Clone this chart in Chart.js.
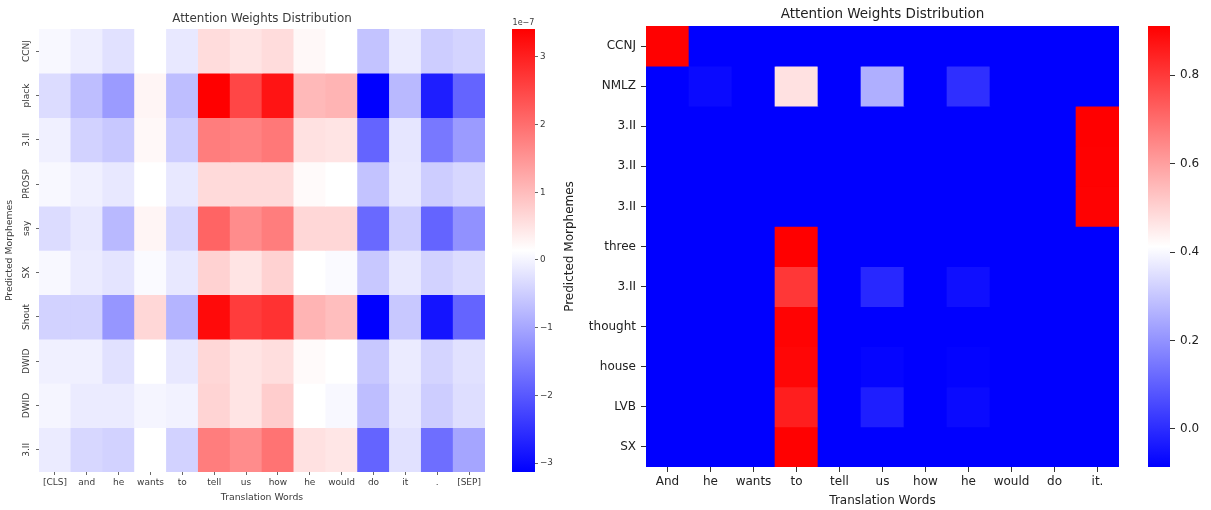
<!DOCTYPE html>
<html>
<head>
<meta charset="utf-8">
<title>Attention Weights Distribution</title>
<script src="https://cdn.jsdelivr.net/npm/chart.js@4.4.0/dist/chart.umd.min.js"></script>
<style>
  html, body { margin: 0; padding: 0; background: #fff; }
  body { width: 1211px; height: 510px; position: relative; overflow: hidden; }
  .box { position: absolute; top: 0; height: 510px; }
</style>
</head>
<body>
<div class="box" style="left:0;width:500px"><canvas id="leftMap"></canvas></div>
<div class="box" style="left:500px;width:60px"><canvas id="leftBar"></canvas></div>
<div class="box" style="left:560px;width:575px"><canvas id="rightMap"></canvas></div>
<div class="box" style="left:1135px;width:76px"><canvas id="rightBar"></canvas></div>
<script>
// left heatmap, values in units of 1e-7
const leftWords = ['[CLS]', 'and', 'he', 'wants', 'to', 'tell', 'us', 'how', 'he', 'would', 'do', 'it', '.', '[SEP]'];
const leftMorphemes = ['CCNJ', 'plack', '3.II', 'PROSP', 'say', 'SX', 'Shout', 'DWID', 'DWID', '3.II'];
const leftWeights = [
  [0.05, -0.08, -0.25, 0.14, -0.16, 0.59, 0.49, 0.59, 0.23, 0.14, -0.63, -0.12, -0.50, -0.41],
  [-0.31, -0.69, -1.14, 0.27, -0.69, 3.41, 2.51, 3.15, 1.04, 1.10, -3.13, -0.76, -2.75, -1.85],
  [-0.05, -0.44, -0.57, 0.23, -0.50, 1.81, 1.74, 1.87, 0.53, 0.49, -1.85, -0.18, -1.59, -1.14],
  [0.05, -0.05, -0.16, 0.14, -0.16, 0.62, 0.62, 0.62, 0.20, 0.14, -0.63, -0.16, -0.50, -0.37],
  [-0.31, -0.16, -0.76, 0.27, -0.37, 2.13, 1.62, 1.81, 0.65, 0.65, -1.78, -0.50, -1.85, -1.27],
  [0.05, -0.12, -0.21, 0.08, -0.16, 0.72, 0.49, 0.72, 0.14, 0.08, -0.57, -0.16, -0.44, -0.31],
  [-0.44, -0.44, -1.21, 0.65, -0.82, 3.28, 2.64, 2.77, 1.10, 0.97, -3.13, -0.57, -2.87, -1.85],
  [-0.05, -0.05, -0.25, 0.14, -0.16, 0.65, 0.49, 0.56, 0.20, 0.14, -0.57, -0.12, -0.41, -0.25],
  [0.01, -0.12, -0.12, 0.01, -0.03, 0.69, 0.49, 0.78, 0.14, 0.05, -0.69, -0.16, -0.50, -0.28],
  [-0.12, -0.37, -0.44, 0.14, -0.44, 1.81, 1.62, 1.94, 0.53, 0.46, -1.85, -0.25, -1.72, -1.01]
];
const leftBarTicks = [-3, -2, -1, 0, 1, 2, 3];

// right heatmap
const rightWords = ['And', 'he', 'wants', 'to', 'tell', 'us', 'how', 'he', 'would', 'do', 'it.'];
const rightMorphemes = ['CCNJ', 'NMLZ', '3.II', '3.II', '3.II', 'three', '3.II', 'thought', 'house', 'LVB', 'SX'];
const rightWeights = [
  [0.910, -0.086, -0.086, -0.086, -0.086, -0.086, -0.086, -0.086, -0.086, -0.086, -0.086],
  [-0.086, -0.066, -0.086, 0.471, -0.086, 0.256, -0.086, 0.005, -0.086, -0.086, -0.086],
  [-0.086, -0.086, -0.086, -0.086, -0.086, -0.086, -0.086, -0.086, -0.086, -0.086, 0.911],
  [-0.086, -0.086, -0.086, -0.086, -0.086, -0.086, -0.086, -0.086, -0.086, -0.086, 0.910],
  [-0.086, -0.086, -0.086, -0.086, -0.086, -0.086, -0.086, -0.086, -0.086, -0.086, 0.908],
  [-0.086, -0.086, -0.086, 0.911, -0.086, -0.086, -0.086, -0.086, -0.086, -0.086, -0.086],
  [-0.086, -0.086, -0.086, 0.803, -0.086, -0.008, -0.086, -0.057, -0.086, -0.086, -0.086],
  [-0.086, -0.086, -0.086, 0.905, -0.086, -0.086, -0.086, -0.086, -0.086, -0.086, -0.086],
  [-0.086, -0.086, -0.086, 0.900, -0.086, -0.076, -0.086, -0.080, -0.086, -0.086, -0.086],
  [-0.086, -0.086, -0.086, 0.852, -0.086, -0.027, -0.086, -0.066, -0.086, -0.086, -0.086],
  [-0.086, -0.086, -0.086, 0.910, -0.086, -0.086, -0.086, -0.086, -0.086, -0.086, -0.086]
];
const rightBarTicks = [0, 0.2, 0.4, 0.6, 0.8];

Chart.defaults.font.family = "'DejaVu Sans', sans-serif";

// matplotlib 'bwr' colormap
function bwr(v, lo, hi) {
  const t = Math.min(1, Math.max(0, (v - lo) / (hi - lo)));
  if (t < 0.5) {
    const c = Math.round(510 * t);
    return `rgb(${c},${c},255)`;
  }
  const c = Math.round(510 * (1 - t));
  return `rgb(255,${c},${c})`;
}

function range(weights) {
  const all = weights.flat();
  return [Math.min(...all), Math.max(...all)];
}

function heatmap(id, words, morphemes, weights, s) {
  const [lo, hi] = range(weights);
  // one floating bar per cell, one dataset per row
  const datasets = morphemes.map((m, r) => ({
    label: m,
    data: weights[r].map(() => [r, r + 1]),
    backgroundColor: weights[r].map(v => bwr(v, lo, hi)),
    borderWidth: 0,
    borderSkipped: false,
    grouped: false,
    barPercentage: 1,
    categoryPercentage: 1
  }));

  return new Chart(document.getElementById(id), {
    type: 'bar',
    data: { labels: words, datasets },
    options: {
      responsive: true,
      maintainAspectRatio: false,
      animation: false,
      layout: { padding: { left: 0, right: s.right, top: 0, bottom: 0 } },
      plugins: {
        legend: { display: false },
        tooltip: { enabled: false },
        title: {
          display: true,
          text: 'Attention Weights Distribution',
          fullSize: false,
          color: s.color,
          font: { size: s.titleSize, weight: 'normal' },
          padding: s.titlePad
        }
      },
      scales: {
        x: {
          type: 'category',
          offset: true,
          grid: { offset: false, drawOnChartArea: false, tickLength: s.tick, tickColor: s.tickColor },
          border: { display: false },
          ticks: { color: s.color, font: { size: s.tickSize }, padding: s.xPad, maxRotation: 0, autoSkip: false },
          title: {
            display: true,
            text: 'Translation Words',
            color: s.color,
            font: { size: s.labelSize },
            padding: { top: 0, bottom: s.xTitleBottom }
          },
          afterFit: scale => { scale.height = s.xHeight; }
        },
        y: {
          type: 'linear',
          min: 0,
          max: morphemes.length,
          reverse: true,
          afterBuildTicks: scale => { scale.ticks = morphemes.map((_, i) => ({ value: i + 0.5 })); },
          grid: { drawOnChartArea: false, tickLength: s.tick, tickColor: s.tickColor },
          border: { display: false },
          ticks: Object.assign({
            color: s.color,
            font: { size: s.tickSize },
            autoSkip: false,
            callback: (v, i) => morphemes[i]
          }, s.yTicks),
          title: {
            display: true,
            text: 'Predicted Morphemes',
            color: s.color,
            font: { size: s.labelSize },
            padding: { top: s.yTitleTop, bottom: 0 }
          },
          afterFit: scale => { scale.width = s.yWidth; }
        }
      }
    }
  });
}

function colorbar(id, weights, ticks, s) {
  const [lo, hi] = range(weights);
  return new Chart(document.getElementById(id), {
    type: 'bar',
    data: {
      labels: [''],
      datasets: [{
        data: [[lo, hi]],
        backgroundColor: c => {
          const a = c.chart.chartArea;
          if (!a) return '#fff';
          const g = c.chart.ctx.createLinearGradient(0, a.bottom, 0, a.top);
          g.addColorStop(0, 'rgb(0,0,255)');
          g.addColorStop(0.5, 'rgb(255,255,255)');
          g.addColorStop(1, 'rgb(255,0,0)');
          return g;
        },
        borderWidth: 0,
        barPercentage: 1,
        categoryPercentage: 1
      }]
    },
    options: {
      responsive: true,
      maintainAspectRatio: false,
      animation: false,
      layout: { padding: { left: s.left, right: 0, top: s.top, bottom: s.bottom } },
      plugins: {
        legend: { display: false },
        tooltip: { enabled: false },
        title: {
          display: !!s.title,
          text: s.title,
          fullSize: false,
          color: s.color,
          font: { size: 8, weight: 'normal' },
          padding: { top: 17.9, bottom: 1.5 }
        }
      },
      scales: {
        x: { display: false },
        y: {
          position: 'right',
          min: lo,
          max: hi,
          afterBuildTicks: scale => { scale.ticks = ticks.map(v => ({ value: v })); },
          grid: { drawOnChartArea: false, tickLength: s.tick, tickColor: s.tickColor },
          border: { display: false },
          ticks: { color: s.color, font: { size: s.tickSize }, padding: s.pad, callback: s.format },
          afterFit: scale => { scale.width = s.width; }
        }
      }
    }
  });
}

heatmap('leftMap', leftWords, leftMorphemes, leftWeights, {
  right: 15, color: '#3a3a3a', tickColor: '#666',
  titleSize: 11.9, titlePad: { top: 11.4, bottom: 3.3 },
  tickSize: 9, labelSize: 9.3, tick: 3, xPad: 2,
  xTitleBottom: 6.4, xHeight: 38, yTitleTop: 4.4, yWidth: 39,
  yTicks: { minRotation: 90, maxRotation: 90, crossAlign: 'center', padding: -5.6 }
});

colorbar('leftBar', leftWeights, leftBarTicks, {
  left: 12, top: 0, bottom: 38, width: 25, title: '1e\u22127',
  color: '#3a3a3a', tickColor: '#666', tick: 3, pad: 2, tickSize: 8.8,
  format: v => (v < 0 ? '\u2212' + Math.abs(v) : String(v))
});

heatmap('rightMap', rightWords, rightMorphemes, rightWeights, {
  right: 16, color: '#222', tickColor: '#333',
  titleSize: 13.5, titlePad: { top: 5.9, bottom: 3.9 },
  tickSize: 12, labelSize: 12, tick: 5, xPad: 3,
  xTitleBottom: 1.8, xHeight: 43, yTitleTop: 2.8, yWidth: 86,
  yTicks: { padding: 5 }
});

colorbar('rightBar', rightWeights, rightBarTicks, {
  left: 13, top: 26, bottom: 43, width: 41, title: '',
  color: '#222', tickColor: '#333', tick: 5, pad: 5, tickSize: 12,
  format: v => v.toFixed(1)
});
</script>
</body>
</html>
